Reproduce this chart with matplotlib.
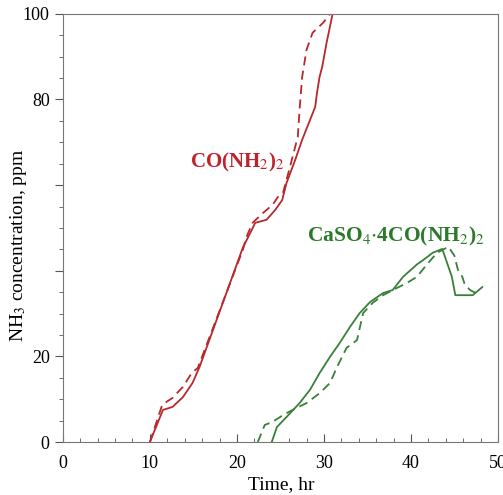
import matplotlib
matplotlib.use('Agg')
import matplotlib.pyplot as plt
from matplotlib.ticker import MultipleLocator

plt.rcParams['font.family'] = ['Liberation Serif', 'DejaVu Serif']
plt.rcParams['mathtext.fontset'] = 'stix'

# urea, two runs (solid / dashed)
red_solid_x = [10, 11.5, 12.6, 13.8, 14.9, 15.7, 20.7, 21.7, 22.1, 23.4, 24.4, 25.2, 25.7, 26.7,
               27.5, 28.4, 29.0, 29.2, 29.5, 29.8, 30.3, 31.0, 31.3]
red_solid_y = [0, 7.5, 8.2, 10.5, 13.8, 17.5, 45.5, 49.5, 51.2, 51.9, 54.2, 56.5, 60.5, 65.9,
               70.6, 75.2, 78.3, 81.5, 85.3, 87.6, 93.2, 100, 102]
red_dash_x = [10, 11.4, 11.7, 12.6, 13.8, 14.8, 15.5, 20.7, 21.1, 21.8, 23.0, 24.1, 24.7, 25.3,
              26.1, 27.0, 27.2, 27.5, 28.0, 28.7, 29.9, 30.7, 31.0]
red_dash_y = [0, 8.6, 9.1, 10.3, 12.9, 16.1, 17.3, 45, 47.9, 51.2, 53.5, 55.4, 57.2, 58.2,
              64.3, 71.3, 77.6, 85.3, 91.6, 95.6, 97.9, 100, 102]

# CaSO4*4CO(NH2)2, two runs
green_solid_x = [24.0, 24.6, 26.1, 27.2, 28.4, 29.5, 30.7, 31.8, 33.0, 34.1, 35.3, 36.8, 37.9,
                 39.1, 40.7, 41.4, 42.5, 43.6, 44.7, 45.1, 47.1, 48.2]
green_solid_y = [0, 3.5, 6.7, 9.1, 12.2, 16.1, 19.9, 23.1, 26.9, 30.1, 32.7, 34.8, 35.5,
                 38.6, 41.5, 42.5, 44.2, 45.1, 38.6, 34.3, 34.3, 36.2]
green_dash_x = [22.4, 23.2, 24.1, 25.3, 26.4, 28.0, 29.5, 30.7, 31.5, 32.6, 33.8, 34.5, 35.6,
                36.8, 38.4, 39.5, 40.7, 41.8, 43.0, 44.3, 45.0, 45.4, 45.9, 46.2, 46.8, 47.9]
green_dash_y = [0, 4.0, 4.7, 6.3, 7.5, 9.1, 11.4, 13.8, 17.5, 22.0, 23.8, 30.1, 32.5,
                34.3, 36.0, 37.1, 38.6, 41.4, 44.2, 45.6, 43.5, 40.2, 38.6, 36.7, 35.5, 34.3]

y_ticks = [0, 20, 40, 60, 80, 100]
y_labels = ['0', '20', '', '', '80', '100']
x_ticks = [0, 10, 20, 30, 40, 50]

red = '#b8282c'
green = '#3a7f3a'

fig = plt.figure(figsize=(5.03, 4.95), dpi=100)
ax = fig.add_axes([0.125, 0.107, 0.865, 0.865])

ax.plot(red_solid_x, red_solid_y, color=red, lw=1.3)
ax.plot(red_dash_x, red_dash_y, color=red, lw=1.3, dashes=(5, 3))
ax.plot(green_solid_x, green_solid_y, color=green, lw=1.3)
ax.plot(green_dash_x, green_dash_y, color=green, lw=1.3, dashes=(5, 3))

ax.set_xlim(0, 50)
ax.set_ylim(0, 100)
ax.set_xticks(x_ticks)
ax.set_yticks(y_ticks)
ax.set_yticklabels(y_labels)
ax.xaxis.set_minor_locator(MultipleLocator(2))
ax.yaxis.set_minor_locator(MultipleLocator(5))
ax.tick_params(axis='x', which='both', direction='in', labelsize=13, color='#555555', pad=9)
ax.tick_params(axis='y', which='both', direction='out', labelsize=13, color='#555555')
ax.tick_params(which='major', length=6)
ax.tick_params(which='minor', length=3)
for s in ax.spines.values():
    s.set_color('#777777')

ax.set_xlabel('Time, hr', fontsize=14, va='center')
ax.set_ylabel('NH$_3$ concentration, ppm', fontsize=14, va='center')
ax.xaxis.set_label_coords(0.501, -0.10)
ax.yaxis.set_label_coords(-0.103, 0.46)

ax.text(14.6, 65.4, 'CO(NH$_2$)$_2$', color='#c0222a', fontsize=15, fontweight='bold',
        va='center', ha='left')
ax.text(28.0, 48.1, r'CaSO$_4$$\cdot$4CO(NH$_2$)$_2$', color='#2a7a2a', fontsize=15.5,
        fontweight='bold', va='center', ha='left')

fig.savefig('out.png', dpi=100)
